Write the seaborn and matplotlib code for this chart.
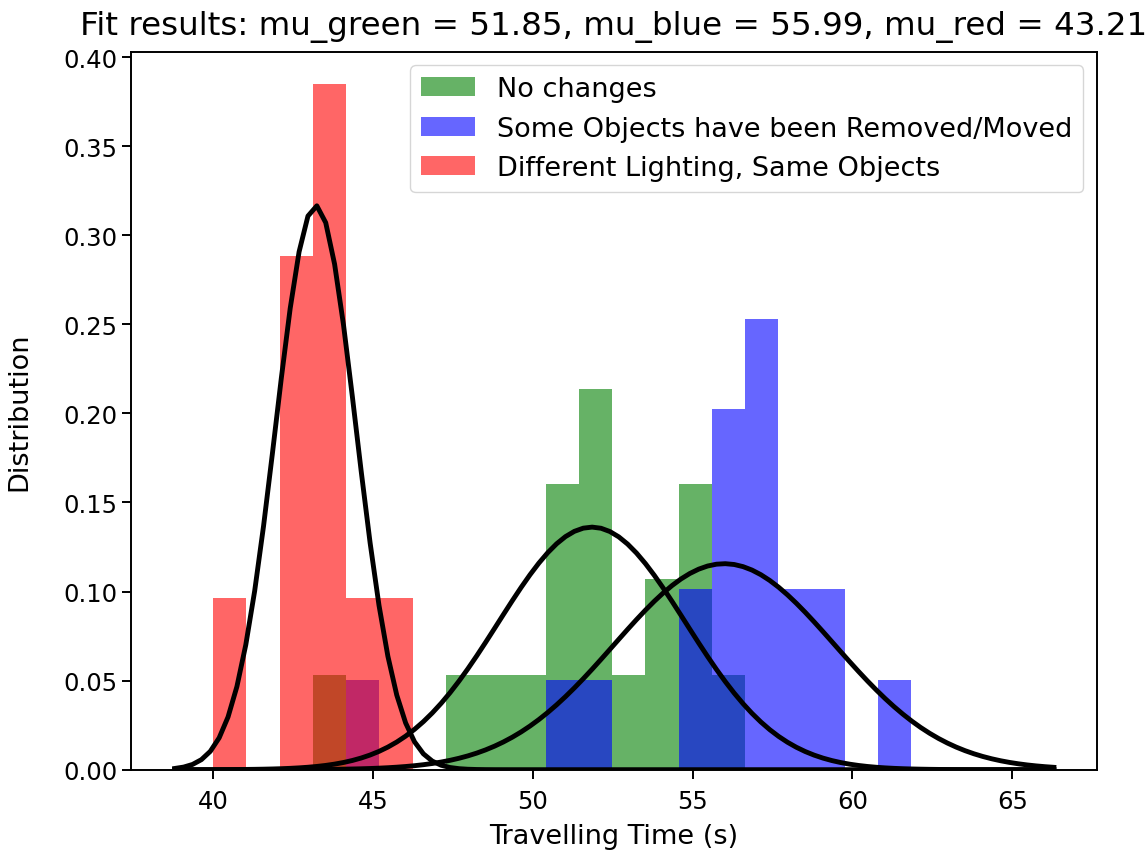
import numpy as np
import pandas as pd
import matplotlib
matplotlib.use("Agg")
import matplotlib.pyplot as plt
import seaborn as sns

# Shared histogram grid (seconds)
bin_start = 40.0
bin_width = 1.04
n_bins = 21

# Counts per bin for each condition
green_counts = [0, 0, 0, 1, 0, 0, 0, 1, 1, 1, 3, 4, 1, 2, 3, 1, 0, 0, 0, 0, 0]
blue_counts = [0, 0, 0, 0, 1, 0, 0, 0, 0, 0, 1, 1, 0, 0, 2, 4, 5, 2, 2, 0, 1]
red_counts = [1, 0, 3, 4, 1, 1, 0, 0, 0, 0, 0, 0, 0, 0, 0, 0, 0, 0, 0, 0, 0]

labels = ["No changes", "Some Objects have been Removed/Moved",
          "Different Lighting, Same Objects"]
colors = ["g", "b", "r"]

# Gaussian fit parameters
mu_green, sigma_green = 51.85, 2.93
mu_blue, sigma_blue = 55.99, 3.45
mu_red, sigma_red = 43.21, 1.26

fit_x_min, fit_x_max = 38.8, 66.3

s = 1.75
plt.rcParams.update({
    "font.family": ["DejaVu Sans"],
    "axes.linewidth": 0.8 * s,
    "xtick.major.size": 3.5 * s,
    "ytick.major.size": 3.5 * s,
    "xtick.major.width": 0.8 * s,
    "ytick.major.width": 0.8 * s,
    "xtick.major.pad": 4.5 * s,
    "xtick.labelsize": 10 * s,
    "ytick.labelsize": 10 * s,
    "axes.labelsize": 19.5,
    "legend.fontsize": 19.5,
})

fig = plt.figure(figsize=(11.46, 8.53), dpi=100)
ax = fig.add_axes([0.114, 0.0965, 0.843, 0.8417])

edges = bin_start + bin_width * np.arange(n_bins + 1)
centers = (edges[:-1] + edges[1:]) / 2
bin_range = (float(edges[0]), float(edges[-1]))

for counts, color, label in zip([green_counts, blue_counts, red_counts], colors, labels):
    df = pd.DataFrame({"time": centers, "count": counts})
    sns.histplot(data=df, x="time", weights="count", binwidth=bin_width,
                 binrange=bin_range, stat="density",
                 color=color, alpha=0.6, linewidth=0, edgecolor="none",
                 label=label, ax=ax)

xs = np.linspace(fit_x_min, fit_x_max, 100)


def gauss(x, mu, sigma):
    return np.exp(-0.5 * ((x - mu) / sigma) ** 2) / (sigma * np.sqrt(2 * np.pi))


for mu, sigma in [(mu_green, sigma_green), (mu_blue, sigma_blue), (mu_red, sigma_red)]:
    curve = pd.DataFrame({"time": xs, "pdf": gauss(xs, mu, sigma)})
    sns.lineplot(data=curve, x="time", y="pdf", color="k", linewidth=2 * s, ax=ax)

ax.set_xlim(37.42, 67.64)
ax.set_ylim(0, 0.403)
ax.set_xlabel("Travelling Time (s)", labelpad=7)
ax.set_ylabel("Distribution", labelpad=22)
ax.set_title(f"Fit results: mu_green = {mu_green:.2f}, mu_blue = {mu_blue:.2f}, "
             f"mu_red = {mu_red:.2f}", fontsize=23.4, pad=13)
ax.legend(loc="upper right")

fig.savefig("out.png", dpi=100)
